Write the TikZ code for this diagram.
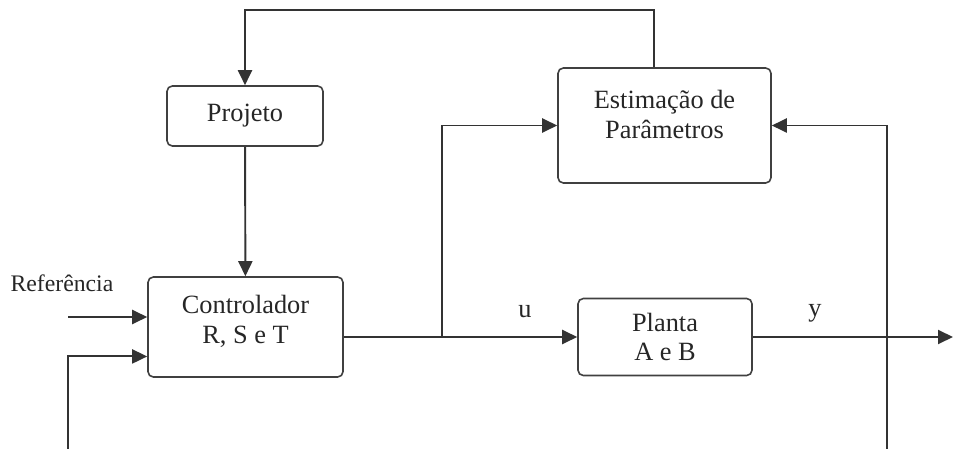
\documentclass[tikz,border=0pt]{standalone}
\usepackage{fontspec}
\setmainfont{Liberation Serif}
\usetikzlibrary{positioning}
\usetikzlibrary{arrows.meta}
\usetikzlibrary{calc}

\tikzset{
  bloco/.style={draw=black!75, line width=0.9pt, rounded corners=3pt, align=center,
    inner sep=0pt, font=\fontsize{15}{17}\selectfont, text=black!85},
  sinal/.style={line width=1.1pt, draw=black!80},
  seta/.style={sinal, -{Triangle[length=0.3cm,width=0.28cm]}},
  rotulo/.style={font=\fontsize{15}{17}\selectfont, text=black!85},
}

\begin{document}
\begin{tikzpicture}[x=0.02cm, y=-0.02cm]
   \useasboundingbox (0,0) rectangle (953,449);
   % blocos
   \node[bloco, minimum width=3.12cm, minimum height=1.2cm] (proj) at (245,116) {Projeto};
   \node[bloco, minimum width=4.26cm, minimum height=2.3cm, text depth=0.44cm] (est) at (664.5,125.5) {Estimação de\\Parâmetros};
   \node[bloco, minimum width=3.9cm, minimum height=2cm, text depth=0.32cm] (ctrl) at (245.5,327) {Controlador\\R, S e T};
   \node[bloco, minimum width=3.48cm, minimum height=1.54cm] (planta) at (665,337) {Planta\\A e B};
   % pontos livres
   \coordinate (topR) at (654,10);
   \coordinate (topL) at (245,10);
   \coordinate (br) at (442,337);
   \coordinate (out) at (953,337);
   \coordinate (fbR) at (887,449);
   \coordinate (fbL) at (68,449);
   \coordinate (ref) at (68,317);
   % textos
   \node[rotulo, font=\fontsize{13.5}{16}\selectfont] (reftxt) at (62,283) {Referência};
   \node[rotulo] (utxt) at (525,312) {u};
   \node[rotulo] (ytxt) at (815,313) {y};
   % ligacoes
   \draw[seta] (est.north -| topR) -- (topR) -- (topL) -- (proj.north);
   \draw[seta] (proj) -- (ctrl);
   \draw[seta] (ctrl.east |- planta) -- (planta.west);
   \draw[seta] (br) |- (est.west);
   \draw[seta] (planta.east) -- (out);
   \draw[seta] (fbR) |- (est.east);
   \draw[seta] (ref) -- (ref -| ctrl.west);
   \draw[seta] (fbL) |- ($(ctrl.north west)!0.79!(ctrl.south west)$);
\end{tikzpicture}
\end{document}
